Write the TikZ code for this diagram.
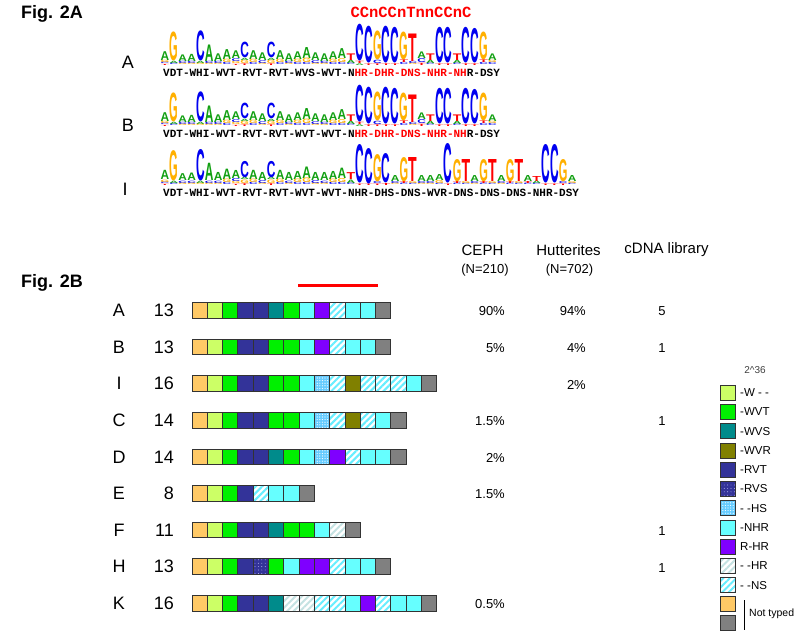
\documentclass[tikz,border=0pt]{standalone}
\usepackage{fontspec}
\usepackage{graphicx}
\setmainfont{Liberation Sans}
\newfontfamily\monof{Liberation Mono}
\newfontfamily\lgf{Liberation Sans}
\usetikzlibrary{patterns.meta}
\definecolor{lgA}{HTML}{12A012}
\definecolor{lgC}{HTML}{0000F0}
\definecolor{lgG}{HTML}{FFB000}
\definecolor{lgT}{HTML}{FF0000}
\definecolor{cTan}{HTML}{FFC966}
\definecolor{cLg}{HTML}{CCFF66}
\definecolor{cGr}{HTML}{00F000}
\definecolor{cTe}{HTML}{008B8B}
\definecolor{cOl}{HTML}{808000}
\definecolor{cNv}{HTML}{333399}
\definecolor{cCy}{HTML}{66FFFF}
\definecolor{cPu}{HTML}{7F00FF}
\definecolor{cGy}{HTML}{808080}
\definecolor{cHS}{HTML}{66CCFF}
\definecolor{cNS}{HTML}{66EEFF}
\definecolor{cHR}{HTML}{C4E2E2}
\definecolor{bord}{HTML}{333333}
\tikzset{
  cell/.style={draw=bord, line width=0.9pt},
  btn/.style={cell, fill=cTan},
  blg/.style={cell, fill=cLg},
  bgr/.style={cell, fill=cGr},
  bte/.style={cell, fill=cTe},
  bol/.style={cell, fill=cOl},
  bnv/.style={cell, fill=cNv},
  bcy/.style={cell, fill=cCy},
  bpu/.style={cell, fill=cPu},
  bgy/.style={cell, fill=cGy},
  bhs/.style={fill=cHS, postaction={pattern={Dots[distance=2.6pt,radius=0.6pt]}, pattern color=white}, postaction={draw=bord, line width=0.9pt}},
  brv/.style={fill=cNv, postaction={pattern={Dots[distance=3.4pt,radius=0.45pt]}, pattern color=white!80!blue}, postaction={draw=bord, line width=0.9pt}},
  bns/.style={fill=white, postaction={pattern={Lines[angle=45,distance=4.6pt,line width=2pt]}, pattern color=cNS}, postaction={draw=bord, line width=0.9pt}},
  bhr/.style={fill=white, postaction={pattern={Lines[angle=45,distance=4.6pt,line width=2pt]}, pattern color=cHR}, postaction={draw=bord, line width=0.9pt}},
  lab/.style={font=\fontsize{18}{20}\selectfont, inner sep=0pt},
  num/.style={font=\fontsize{13}{15}\selectfont, inner sep=0pt},
  hdr/.style={font=\fontsize{15}{17}\selectfont, inner sep=0pt},
  seqtxt/.style={font=\monof\bfseries\fontsize{11}{12}\selectfont, inner sep=0pt, anchor=west},
  legtxt/.style={font=\fontsize{11.5}{13}\selectfont, inner sep=0pt, anchor=west},
}
\def\lgsc{1}
\def\lgid{A}
\newcommand\lgpos[3]{%
  \pgfmathsetmacro\lgx{165+8.85*#2}%
  \xdef\lgy{#1}%
  \foreach \l/\h [count=\j] in {#3}{%
    \pgfmathsetmacro\hh{\h*\lgsc}%
    \node[inner sep=0pt, outer sep=0pt, anchor=south, text=lg\l] (lg\lgid-#2-\j) at (\lgx,-\lgy) {\resizebox{8.6pt}{\hh pt}{\lgf\bfseries\l}};%
    \pgfmathsetmacro\ny{\lgy-\hh}\xdef\lgy{\ny}%
  }%
}
\newcommand\firstpart[1]{%
\lgpos{#1}{0}{T/1,C/1.5,G/2,A/8}%
\lgpos{#1}{1}{C/1.5,A/2,G/26}%
\lgpos{#1}{2}{G/1.5,C/2,A/6}%
\lgpos{#1}{3}{G/1.5,C/2,A/6.5}%
\lgpos{#1}{4}{G/1.5,A/2,C/27}%
\lgpos{#1}{5}{G/1.5,C/2,A/15}%
\lgpos{#1}{6}{G/1.5,C/2,A/7}%
\lgpos{#1}{7}{C/2,G/3,A/9}%
\lgpos{#1}{8}{T/1,G/2,C/2.5,A/7}%
\lgpos{#1}{9}{T/1.5,G/3,A/2,C/14}%
\lgpos{#1}{10}{C/2,G/3,A/8}%
\lgpos{#1}{11}{G/1.5,C/2.5,A/7}%
\lgpos{#1}{12}{T/1.5,G/3,A/2,C/14}%
\lgpos{#1}{13}{C/2,G/3,A/8}%
\lgpos{#1}{14}{G/1.5,C/2,A/7}%
\lgpos{#1}{15}{C/2,G/3,A/7}%
\lgpos{#1}{16}{C/2,G/4,A/10}%
\lgpos{#1}{17}{G/1.5,C/2.5,A/7}%
\lgpos{#1}{18}{G/1.5,C/2,A/7}%
\lgpos{#1}{19}{C/2,G/3,A/7}%
\lgpos{#1}{20}{C/2,G/3.5,A/9}%
\lgpos{#1}{21}{C/1.5,A/3,T/6}%
}
\newcommand\secondAB[1]{%
\lgpos{#1}{22}{A/1.5,T/2,C/33}%
\lgpos{#1}{23}{T/1.5,C/33}%
\lgpos{#1}{24}{T/1.5,C/3,G/26}%
\lgpos{#1}{25}{T/1.5,C/33}%
\lgpos{#1}{26}{T/1.5,C/32}%
\lgpos{#1}{27}{C/2,T/2.5,G/25}%
\lgpos{#1}{28}{G/1.5,C/2,T/25}%
\lgpos{#1}{29}{T/2,C/3.5,A/6}%
\lgpos{#1}{30}{C/1.5,A/3,T/6}%
\lgpos{#1}{31}{T/1.5,C/32}%
\lgpos{#1}{32}{T/1.5,C/32}%
\lgpos{#1}{33}{C/1.5,A/3,T/6}%
\lgpos{#1}{34}{T/1.5,C/32}%
\lgpos{#1}{35}{T/1.5,C/31}%
\lgpos{#1}{36}{C/2,T/2.5,G/25}%
\lgpos{#1}{37}{C/2,G/2,A/6}%
}
\newcommand\secondI[1]{%
\lgpos{#1}{22}{T/1.5,C/38}%
\lgpos{#1}{23}{T/1.5,C/35}%
\lgpos{#1}{24}{T/1.5,C/2,G/27}%
\lgpos{#1}{25}{T/2,C/29}%
\lgpos{#1}{26}{G/1.5,C/2,A/6}%
\lgpos{#1}{27}{C/1.5,T/2,G/24}%
\lgpos{#1}{28}{C/1.5,G/2,T/24}%
\lgpos{#1}{29}{G/1.5,C/2,A/6}%
\lgpos{#1}{30}{G/1.5,C/2,A/6}%
\lgpos{#1}{31}{C/1.5,G/3,A/6}%
\lgpos{#1}{32}{T/1.5,C/39}%
\lgpos{#1}{33}{C/1.5,T/2,G/22}%
\lgpos{#1}{34}{C/1.5,G/2,T/22}%
\lgpos{#1}{35}{G/1.5,C/2,A/6}%
\lgpos{#1}{36}{C/1.5,T/2,G/22}%
\lgpos{#1}{37}{C/1.5,G/2,T/22}%
\lgpos{#1}{38}{G/1.5,C/2,A/6}%
\lgpos{#1}{39}{C/1.5,T/2,G/22}%
\lgpos{#1}{40}{C/1.5,G/2,T/22}%
\lgpos{#1}{41}{C/1.5,T/2,A/6}%
\lgpos{#1}{42}{C/1.5,A/2.5,T/5}%
\lgpos{#1}{43}{T/1.5,C/38}%
\lgpos{#1}{44}{T/1.5,C/38}%
\lgpos{#1}{45}{T/1.5,C/2,G/22}%
\lgpos{#1}{46}{C/1.5,G/2,A/6}%
}
\newcommand\brow[2]{%
  \foreach \s [count=\i from 0] in {#2}{\path[\s] ({192+15.3*\i},{-#1+7.8}) rectangle ++(15.3,-15.6);}%
}
\begin{document}
\begin{tikzpicture}[x=1pt,y=1pt]
\useasboundingbox (0,0) rectangle (800,-638);
\fill[white] (0,0) rectangle (800,-638);
% ---------- Fig 2A ----------
\node[anchor=west, font=\fontsize{18}{20}\selectfont\bfseries, inner sep=0pt] (figA) at (21,-14) {Fig. 2A};
\node[font=\monof\bfseries\fontsize{15.5}{17}\selectfont, text=red, inner sep=0pt] (cons) at (411,-12) {CCnCCnTnnCCnC};
\node[lab] (labA) at (128,-62) {A};
\node[lab] (labB) at (128,-125) {B};
\node[lab] (labI) at (125,-189) {I};
\def\lgid{A}\def\lgsc{1.1}\firstpart{65}\secondAB{65}
\def\lgid{B}\def\lgsc{1.1}\firstpart{126}\secondAB{126}
\def\lgid{I}\def\lgsc{1.15}\firstpart{185}\def\lgsc{1.0}\secondI{185}
\node[seqtxt] (txtA) at (163,-72.5) {VDT-WHI-WVT-RVT-RVT-WVS-WVT-N\textcolor{red}{HR-DHR-DNS-NHR-NH}R-DSY};
\node[seqtxt] (txtB) at (163,-133.5) {VDT-WHI-WVT-RVT-RVT-WVT-WVT-N\textcolor{red}{HR-DHR-DNS-NHR-NH}R-DSY};
\node[seqtxt] (txtI) at (163,-192.5) {VDT-WHI-WVT-RVT-RVT-WVT-WVT-NHR-DHS-DNS-WVR-DNS-DNS-DNS-NHR-DSY};
% ---------- Fig 2B ----------
\node[anchor=west, font=\fontsize{18}{20}\selectfont\bfseries, inner sep=0pt] (figB) at (21,-283) {Fig. 2B};
\node[hdr] (hC) at (482.5,-250) {CEPH};
\node[hdr] (hH) at (568.5,-250) {Hutterites};
\node[hdr] (hD) at (666.5,-250) {cDNA library};
\node[num] (nC) at (485,-270) {(N=210)};
\node[num] (nH) at (569.5,-270) {(N=702)};
\coordinate (r1) at (298,-285);
\coordinate (r2) at (378,-285);
\draw[red, line width=3pt] (r1) -- (r2);
% rows
\foreach \n/\c/\yy in {A/13/310.5,B/13/347.1,I/16/383.7,C/14/420.3,D/14/456.9,E/8/493.5,F/11/530.1,H/13/566.7,K/16/603.3}{%
  \node[lab] (row\n) at (119,-\yy) {\n};
  \node[lab, anchor=east] (cnt\n) at (174,-\yy) {\c};
}
\brow{310.5}{btn,blg,bgr,bnv,bnv,bte,bgr,bcy,bpu,bns,bcy,bcy,bgy}
\brow{347.1}{btn,blg,bgr,bnv,bnv,bgr,bgr,bcy,bpu,bns,bcy,bcy,bgy}
\brow{383.7}{btn,blg,bgr,bnv,bnv,bgr,bgr,bcy,bhs,bns,bol,bns,bns,bns,bcy,bgy}
\brow{420.3}{btn,blg,bgr,bnv,bnv,bgr,bgr,bcy,bhs,bns,bol,bns,bcy,bgy}
\brow{456.9}{btn,blg,bgr,bnv,bnv,bte,bgr,bcy,bhs,bpu,bns,bcy,bcy,bgy}
\brow{493.5}{btn,blg,bgr,bnv,bns,bcy,bcy,bgy}
\brow{530.1}{btn,blg,bgr,bnv,bnv,bte,bgr,bgr,bcy,bhr,bgy}
\brow{566.7}{btn,blg,bgr,bnv,brv,bgr,bcy,bpu,bpu,bns,bcy,bcy,bgy}
\brow{603.3}{btn,blg,bgr,bnv,bnv,bte,bhr,bhr,bns,bns,bcy,bpu,bns,bcy,bcy,bgy}
% percentages
\node[num, anchor=east] (pA1) at (505,-311.5) {90\%};
\node[num, anchor=east] (pA2) at (586,-311.5) {94\%};
\node[num] (pA3) at (662,-311.5) {5};
\node[num, anchor=east] (pB1) at (505,-348.1) {5\%};
\node[num, anchor=east] (pB2) at (586,-348.1) {4\%};
\node[num] (pB3) at (662,-348.1) {1};
\node[num, anchor=east] (pI2) at (586,-384.7) {2\%};
\node[num, anchor=east] (pC1) at (505,-421.3) {1.5\%};
\node[num] (pC3) at (662,-421.3) {1};
\node[num, anchor=east] (pD1) at (505,-457.9) {2\%};
\node[num, anchor=east] (pE1) at (505,-494.5) {1.5\%};
\node[num] (pF3) at (662,-531.1) {1};
\node[num] (pH3) at (662,-567.7) {1};
\node[num, anchor=east] (pK1) at (505,-604.3) {0.5\%};
% legend
\node[font=\fontsize{10}{11}\selectfont, text=black!75, inner sep=0pt] (scrib) at (755,-370) {2\textasciicircum36};
\foreach \s/\t [count=\i from 0] in {blg/{-W - -},bgr/{-WVT},bte/{-WVS},bol/{-WVR},bnv/{-RVT},brv/{-RVS},bhs/{- -HS},bcy/{-NHR},bpu/{R-HR},bhr/{- -HR},bns/{- -NS}}{%
  \path[\s] (720,{-(392.7+19.25*\i)+7.5}) rectangle ++(15.7,-15);
  \node[legtxt] (leg\i) at (740,{-(392.7+19.25*\i)}) {\t};
}
\path[btn] (720,{-603.45+7.5}) rectangle ++(15.7,-15);
\path[bgy] (720,{-622.7+7.5}) rectangle ++(15.7,-15);
\coordinate (nt1) at (744,-600);
\coordinate (nt2) at (744,-630);
\draw[black, line width=0.8pt] (nt1) -- (nt2);
\node[legtxt, font=\fontsize{10.5}{12}\selectfont] (ntyp) at (749,-614) {Not typed};
\end{tikzpicture}
\end{document}
